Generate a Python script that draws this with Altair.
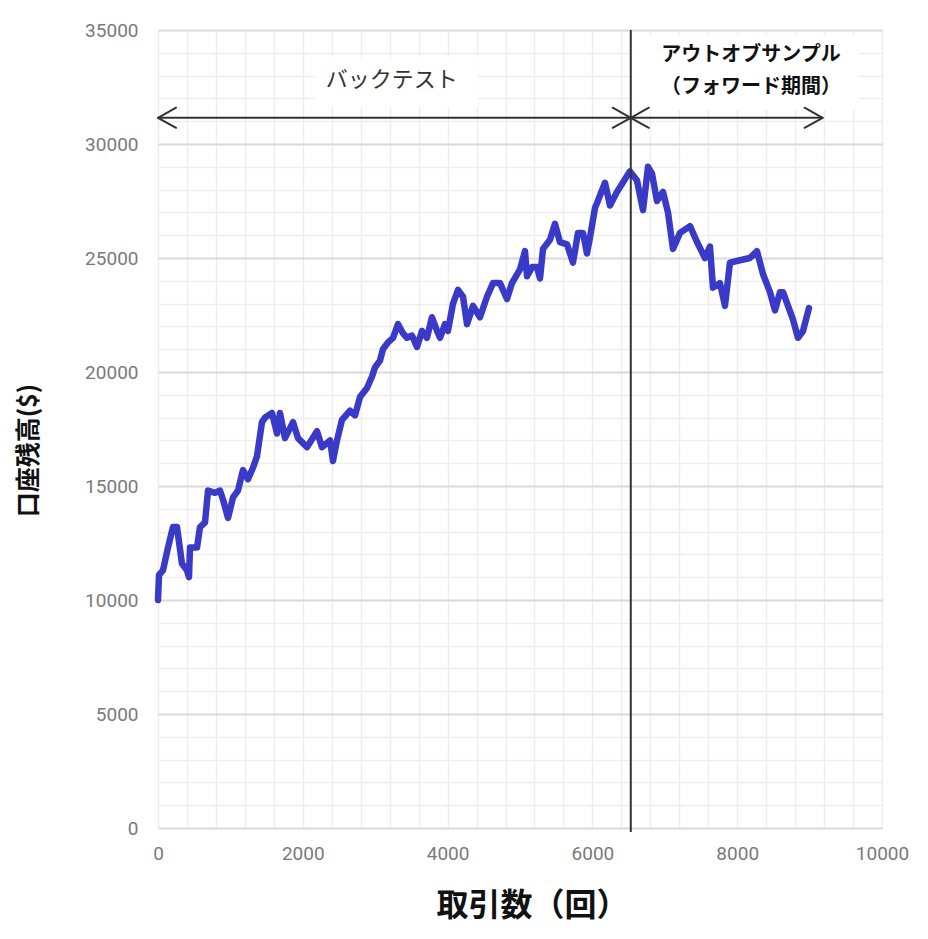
import altair as alt
import pandas as pd

# ---- equity curve ----
trades = [0,14,69,138,207,262,331,400,428,442,
          539,580,649,691,787,856,898,967,1036,1105,
          1174,1243,1312,1367,1436,1478,1575,1644,1685,1754,
          1865,1934,2058,2196,2265,2376,2417,2472,2541,2652,
          2721,2790,2887,2956,2997,3066,3108,3177,3246,3315,
          3384,3439,3508,3577,3646,3715,3784,3854,3895,3964,
          4005,4075,4144,4213,4268,4351,4447,4544,4627,4724,
          4820,4889,5000,5069,5097,5166,5235,5276,5318,5414,
          5483,5552,5649,5732,5801,5870,5925,5967,6036,6063,
          6174,6243,6340,6478,6519,6616,6699,6768,6823,6892,
          6975,7044,7113,7210,7348,7445,7555,7624,7666,7762,
          7831,7900,8038,8176,8273,8356,8453,8522,8591,8633,
          8702,8771,8840,8909,8991]
balance = [10000,11100,11300,12300,13200,13200,11600,11300,11000,12300,
           12300,13200,13400,14800,14700,14800,14400,13600,14500,14800,
           15700,15300,15800,16300,17800,18000,18200,17300,18200,17100,
           17800,17100,16700,17400,16700,17000,16100,17000,17900,18300,
           18100,18900,19300,19800,20200,20500,21000,21300,21500,22100,
           21700,21500,21600,21100,21800,21500,22400,21800,21500,22100,
           21800,23000,23600,23300,22100,22900,22400,23300,23900,23900,
           23200,23900,24500,25300,24200,24600,24600,24100,25400,25800,
           26500,25700,25600,24800,26100,26100,25200,25900,27200,27400,
           28300,27300,27900,28600,28800,28400,27100,29000,28700,27500,
           27900,27000,25400,26100,26400,25700,25000,25500,23700,23900,
           22900,24800,24900,25000,25300,24300,23500,22700,23500,23500,
           22900,22300,21500,21800,22800]

# ---- annotations ----
divider_x = [6530]
arrow_x1 = [0, 6530]
arrow_x2 = [6530, 9180]
arrow_y = 31150
head_tips = [0, 6530, 6530, 9180]
head_dirs = [1, -1, 1, -1]          # +1: head points left, -1: points right
head_len = 250
head_half = 440

box_x1 = [2170, 6560]
box_x2 = [4420, 9670]
box_y1 = [31620, 31490]
box_y2 = [33800, 34800]

labels_text = ["バックテスト", "アウトオブサンプル", "（フォワード期間）"]
labels_x = [3230, 8190, 8190]
labels_y = [32800, 33900, 32500]
labels_bold = [False, True, True]

x_ticks = list(range(0, 10001, 400))
y_ticks = list(range(0, 35001, 1000))

curve = pd.DataFrame({"trades": trades, "balance": balance})
xs = alt.Scale(domain=[0, 10000], nice=False, zero=False)
ys = alt.Scale(domain=[0, 35000], nice=False, zero=False)

x_axis = alt.Axis(
    values=x_ticks, format="d",
    labelExpr="datum.value % 2000 === 0 ? datum.label : ''",
    labelFlush=False, labelOverlap=False,
    title="取引数（回）", titleX=374, titleY=77,
    titleBaseline="middle", titleAlign="center",
    gridColor="#ededed", gridWidth=1.5,
    labelPadding=16,
)
y_axis = alt.Axis(
    values=y_ticks, format="d",
    labelExpr="datum.value % 5000 === 0 ? datum.label : ''",
    labelOverlap=False,
    title="口座残高($)", titleX=-130, titleY=420,
    titleAngle=270, titleBaseline="middle", titleAlign="center",
    gridColor={"condition": {"test": "datum.value % 5000 === 0", "value": "#dadada"}, "value": "#ededed"},
    gridWidth={"condition": {"test": "datum.value % 5000 === 0", "value": 2.2}, "value": 1.5},
    labelPadding=20,
)

line = alt.Chart(curve).mark_line(
    color="#3a3ac8", strokeWidth=6.5, strokeJoin="round", strokeCap="round"
).encode(
    x=alt.X("trades:Q", scale=xs, axis=x_axis),
    y=alt.Y("balance:Q", scale=ys, axis=y_axis),
)

boxes = alt.Chart(pd.DataFrame({"x1": box_x1, "x2": box_x2, "y1": box_y1, "y2": box_y2})).mark_rect(
    color="white"
).encode(
    x=alt.X("x1:Q", scale=xs, axis=x_axis), x2="x2:Q",
    y=alt.Y("y1:Q", scale=ys, axis=y_axis), y2="y2:Q",
)

divider = alt.Chart(pd.DataFrame({"x": divider_x})).mark_rule(
    color="#333333", strokeWidth=2
).encode(
    x=alt.X("x:Q", scale=xs, axis=x_axis),
    y=alt.value(0), y2=alt.value(802),
)

shafts = alt.Chart(pd.DataFrame({"x1": arrow_x1, "x2": arrow_x2, "y": [arrow_y] * len(arrow_x1)})).mark_rule(
    color="#333333", strokeWidth=2
).encode(
    x=alt.X("x1:Q", scale=xs, axis=x_axis), x2="x2:Q",
    y=alt.Y("y:Q", scale=ys, axis=y_axis),
)

hx1, hx2, hy1, hy2 = [], [], [], []
for t, d in zip(head_tips, head_dirs):
    for s in (1, -1):
        hx1.append(t)
        hx2.append(t + d * head_len)
        hy1.append(arrow_y)
        hy2.append(arrow_y + s * head_half)
heads = alt.Chart(pd.DataFrame({"x1": hx1, "x2": hx2, "y1": hy1, "y2": hy2})).mark_rule(
    color="#333333", strokeWidth=2, strokeCap="round"
).encode(
    x=alt.X("x1:Q", scale=xs, axis=x_axis), x2="x2:Q",
    y=alt.Y("y1:Q", scale=ys, axis=y_axis), y2="y2:Q",
)

lab = pd.DataFrame({"t": labels_text, "x": labels_x, "y": labels_y, "b": labels_bold})
text_regular = alt.Chart(lab[~lab["b"]]).mark_text(
    font="Noto Sans CJK JP", fontSize=22, color="#333333", baseline="middle", align="center"
).encode(
    x=alt.X("x:Q", scale=xs, axis=x_axis), y=alt.Y("y:Q", scale=ys, axis=y_axis), text="t:N"
)
text_bold = alt.Chart(lab[lab["b"]]).mark_text(
    font="Noto Sans CJK JP", fontSize=20, fontWeight="bold", color="#111111", baseline="middle", align="center"
).encode(
    x=alt.X("x:Q", scale=xs, axis=x_axis), y=alt.Y("y:Q", scale=ys, axis=y_axis), text="t:N"
)

chart = alt.layer(line, boxes, divider, shafts, heads, text_regular, text_bold).properties(
    width=724, height=798,
    autosize=alt.AutoSizeParams(type="none"),
    padding={"left": 158, "top": 30, "right": 46, "bottom": 111},
    background="white",
).configure_view(stroke=None).configure_axis(
    domain=False, ticks=False,
    labelFont="Roboto", labelFontSize=19, labelColor="#7a7a7a",
    titleFont="Noto Sans CJK JP", titleFontWeight="bold", titleColor="#111111",
).configure_axisX(titleFontSize=32).configure_axisY(titleFontSize=25)

chart.save("out.html", embed_options={"renderer": "svg", "actions": False})
